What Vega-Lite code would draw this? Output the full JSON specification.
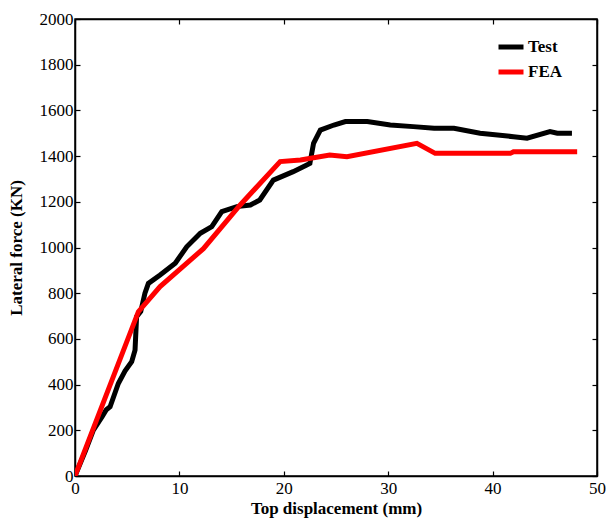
{
  "$schema": "https://vega.github.io/schema/vega-lite/v6.json",
  "autosize": {"type": "none"},
  "padding": {"left": 75, "top": 19, "right": 11, "bottom": 45},
  "width": 522,
  "height": 457,
  "background": "white",
  "config": {
    "view": {"stroke": "black", "strokeWidth": 1.5},
    "axis": {
      "labelFont": "Liberation Serif",
      "labelFontSize": 17,
      "labelColor": "black",
      "labelFlush": false,
      "labelOverlap": false,
      "labelBound": false,
      "titleFont": "Liberation Serif",
      "titleFontSize": 17,
      "titleFontWeight": "bold",
      "titleColor": "black",
      "domainColor": "black",
      "domainWidth": 1.5,
      "tickColor": "black",
      "tickWidth": 1.2,
      "tickSize": -5,
      "grid": false
    },
    "legend": {
      "labelFont": "Liberation Serif",
      "labelFontSize": 17,
      "labelFontWeight": "bold",
      "labelColor": "black"
    }
  },
  "data": {
    "values": [
      {"s": "Test", "i": 0, "d": 0, "f": 0},
      {"s": "Test", "i": 1, "d": 1.0, "f": 110},
      {"s": "Test", "i": 2, "d": 1.76, "f": 201},
      {"s": "Test", "i": 3, "d": 2.6, "f": 260},
      {"s": "Test", "i": 4, "d": 3.0, "f": 290},
      {"s": "Test", "i": 5, "d": 3.36, "f": 303},
      {"s": "Test", "i": 6, "d": 4.15, "f": 405},
      {"s": "Test", "i": 7, "d": 4.8, "f": 460},
      {"s": "Test", "i": 8, "d": 5.43, "f": 500},
      {"s": "Test", "i": 9, "d": 5.75, "f": 551},
      {"s": "Test", "i": 10, "d": 5.9, "f": 697},
      {"s": "Test", "i": 11, "d": 6.3, "f": 720},
      {"s": "Test", "i": 12, "d": 6.7, "f": 800},
      {"s": "Test", "i": 13, "d": 7.03, "f": 843},
      {"s": "Test", "i": 14, "d": 8.15, "f": 880},
      {"s": "Test", "i": 15, "d": 9.6, "f": 931},
      {"s": "Test", "i": 16, "d": 10.7, "f": 1003},
      {"s": "Test", "i": 17, "d": 12.0, "f": 1062},
      {"s": "Test", "i": 18, "d": 13.1, "f": 1091},
      {"s": "Test", "i": 19, "d": 14.06, "f": 1157},
      {"s": "Test", "i": 20, "d": 15.5, "f": 1179},
      {"s": "Test", "i": 21, "d": 16.8, "f": 1186},
      {"s": "Test", "i": 22, "d": 17.7, "f": 1208},
      {"s": "Test", "i": 23, "d": 19.0, "f": 1295},
      {"s": "Test", "i": 24, "d": 20.9, "f": 1332},
      {"s": "Test", "i": 25, "d": 22.2, "f": 1361},
      {"s": "Test", "i": 26, "d": 22.5, "f": 1368},
      {"s": "Test", "i": 27, "d": 22.85, "f": 1456},
      {"s": "Test", "i": 28, "d": 23.5, "f": 1514},
      {"s": "Test", "i": 29, "d": 24.8, "f": 1536},
      {"s": "Test", "i": 30, "d": 25.9, "f": 1551},
      {"s": "Test", "i": 31, "d": 28.0, "f": 1551},
      {"s": "Test", "i": 32, "d": 30.2, "f": 1536},
      {"s": "Test", "i": 33, "d": 32.4, "f": 1529},
      {"s": "Test", "i": 34, "d": 34.4, "f": 1522},
      {"s": "Test", "i": 35, "d": 36.3, "f": 1522},
      {"s": "Test", "i": 36, "d": 38.8, "f": 1500},
      {"s": "Test", "i": 37, "d": 42.0, "f": 1485},
      {"s": "Test", "i": 38, "d": 43.3, "f": 1478},
      {"s": "Test", "i": 39, "d": 45.5, "f": 1507},
      {"s": "Test", "i": 40, "d": 46.2, "f": 1500},
      {"s": "Test", "i": 41, "d": 47.6, "f": 1500},
      {"s": "FEA", "i": 0, "d": 0, "f": 0},
      {"s": "FEA", "i": 1, "d": 6.07, "f": 719},
      {"s": "FEA", "i": 2, "d": 8.15, "f": 829},
      {"s": "FEA", "i": 3, "d": 12.3, "f": 995},
      {"s": "FEA", "i": 4, "d": 15.8, "f": 1185},
      {"s": "FEA", "i": 5, "d": 19.65, "f": 1376},
      {"s": "FEA", "i": 6, "d": 21.6, "f": 1383},
      {"s": "FEA", "i": 7, "d": 24.4, "f": 1405},
      {"s": "FEA", "i": 8, "d": 26.05, "f": 1397},
      {"s": "FEA", "i": 9, "d": 32.75, "f": 1456},
      {"s": "FEA", "i": 10, "d": 34.5, "f": 1412},
      {"s": "FEA", "i": 11, "d": 41.7, "f": 1412},
      {"s": "FEA", "i": 12, "d": 42.0, "f": 1419},
      {"s": "FEA", "i": 13, "d": 48.1, "f": 1419}
    ]
  },
  "layer": [
    {
      "mark": {"type": "line", "strokeWidth": 5, "clip": true},
      "encoding": {
        "x": {"field": "d", "type": "quantitative", "scale": {"domain": [0, 50], "nice": false},
              "axis": {"title": "Top displacement (mm)", "orient": "bottom", "format": "d", "values": [0, 10, 20, 30, 40, 50], "labelPadding": 9, "titlePadding": 4}},
        "y": {"field": "f", "type": "quantitative", "scale": {"domain": [0, 2000], "nice": false},
              "axis": {"title": "Lateral force (KN)", "orient": "left", "format": "d", "values": [0, 200, 400, 600, 800, 1000, 1200, 1400, 1600, 1800, 2000], "labelPadding": 7, "titlePadding": 14}},
        "color": {"field": "s", "type": "nominal", "sort": ["Test", "FEA"],
                  "scale": {"domain": ["Test", "FEA"], "range": ["black", "#ff0000"]},
                  "legend": {"title": null, "orient": "none", "legendX": 421, "legendY": 13, "symbolType": "stroke", "symbolSize": 625, "symbolStrokeWidth": 5, "labelOffset": 2, "rowPadding": 0, "padding": 0}},
        "order": {"field": "i", "type": "quantitative"}
      }
    },
    {
      "mark": {"type": "point", "opacity": 0},
      "encoding": {
        "x": {"field": "d", "type": "quantitative", "axis": {"orient": "top", "labels": false, "title": null, "values": [0, 10, 20, 30, 40, 50]}},
        "y": {"field": "f", "type": "quantitative", "axis": {"orient": "right", "labels": false, "title": null, "values": [0, 200, 400, 600, 800, 1000, 1200, 1400, 1600, 1800, 2000]}}
      }
    }
  ],
  "resolve": {"axis": {"x": "independent", "y": "independent"}}
}
